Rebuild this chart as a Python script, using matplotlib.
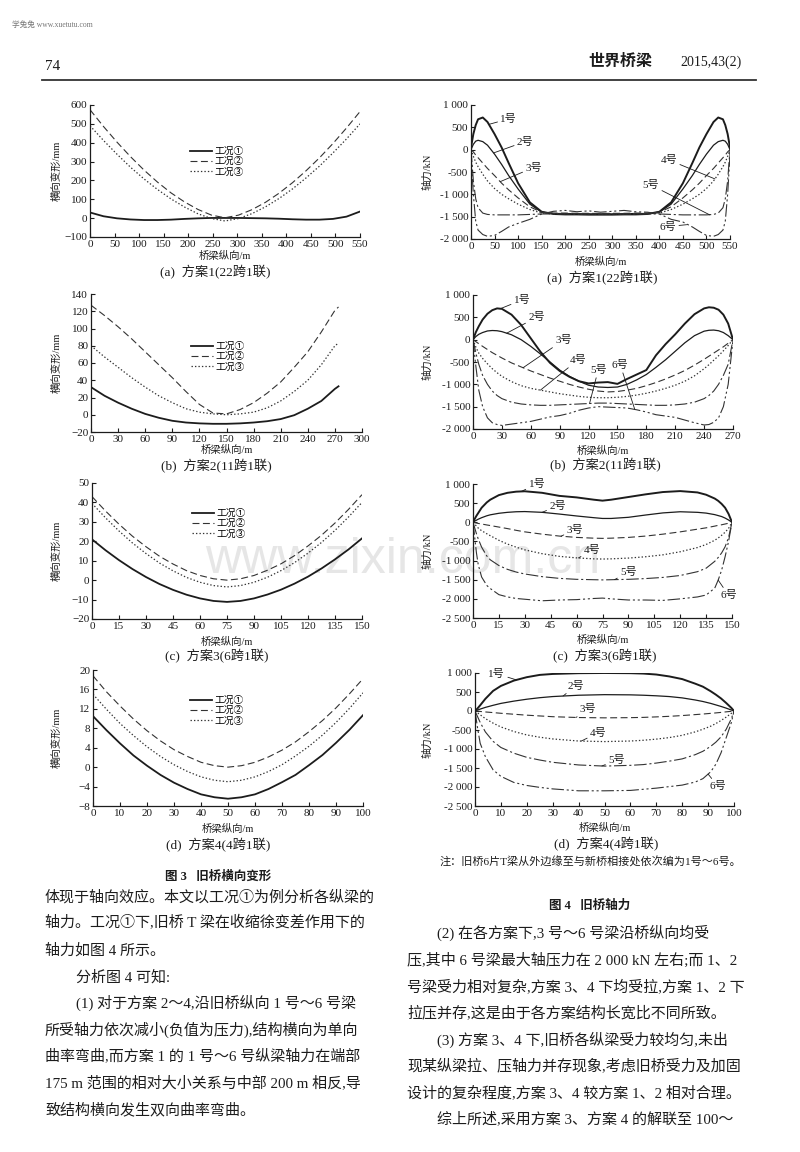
import matplotlib
matplotlib.use('Agg')
import matplotlib.pyplot as plt
from matplotlib.lines import Line2D

plt.rcParams['font.family'] = ['Liberation Serif', 'Noto Sans CJK SC']
plt.rcParams['lines.scale_dashes'] = False

# ---------------- 图3 旧桥横向变形 (mm) ----------------
# (a) 方案1
xa = [0, 27.5, 55, 82.5, 110, 137.5, 165, 192.5, 220, 247.5, 275,
      302.5, 330, 357.5, 385, 412.5, 440, 467.5, 495, 522.5, 550]
a_case1 = [30, 10, -1, -7, -10, -10, -8, -4, -1, 1, 1, 1, 0, -1, -3, -6, -8, -8, -4, 8, 35]
a_case2 = [575, 486, 403, 326, 255, 191, 134, 86, 46, 16, 2, 16, 45, 84, 132, 188, 251, 320, 396, 478, 565]
a_case3 = [490, 412, 339, 270, 208, 152, 102, 59, 23, -2, -15, -2, 24, 60, 104, 155, 213, 276, 346, 420, 500]

# (b) 方案2
xb = [0, 15, 30, 45, 60, 75, 90, 105, 120, 135, 150, 165, 180, 195, 210, 225, 240, 255, 270, 274]
b_case1 = [32, 22, 14, 7, 1, -3.5, -7, -9, -10, -10.5, -10.5, -10, -9, -7.5, -5, -0.5, 7, 16, 30, 33]
b_case2 = [127, 115, 102, 88, 73, 58, 43, 27, 12, 2, 1, 6, 14, 25, 38, 55, 73, 96, 121, 125]
b_case3 = [80, 67, 55, 43, 32, 22, 14, 7, 3, 1, 0, 1, 3, 8, 16, 27, 40, 58, 80, 83]

# (c) 方案3
xc = [0, 7.5, 15, 22.5, 30, 37.5, 45, 52.5, 60, 67.5, 75,
      82.5, 90, 97.5, 105, 112.5, 120, 127.5, 135, 142.5, 150]
c_case1 = [21, 15.4, 10.3, 5.7, 1.6, -2, -5, -7.5, -9.4, -10.7, -11.2, -10.7, -9.4, -7.4, -4.9, -1.8, 1.8, 6, 10.7, 15.8, 21.5]
c_case2 = [43, 35.6, 28.8, 22.6, 17.2, 12.3, 8.3, 4.9, 2.4, 0.7, 0, 0.7, 2.4, 5.1, 8.4, 12.6, 17.6, 23.1, 29.4, 36.4, 44]
c_case3 = [39.5, 32.1, 25.3, 19.1, 13.7, 8.8, 4.8, 1.4, -1.1, -2.8, -3.5, -2.8, -1.1, 1.5, 4.9, 9, 13.9, 19.4, 25.6, 32.5, 40]

# (d) 方案4
xd = [0, 5, 10, 15, 20, 25, 30, 35, 40, 45, 50, 55, 60, 65, 70, 75, 80, 85, 90, 95, 100]
d_case1 = [10.5, 7.6, 4.9, 2.4, 0.3, -1.6, -3.2, -4.5, -5.6, -6.2, -6.5, -6.2, -5.6, -4.5, -3.1, -1.6, 0.4, 2.5, 5, 7.7, 10.7]
d_case2 = [18.8, 15.5, 12.6, 9.9, 7.5, 5.4, 3.6, 2.2, 1.0, 0.3, 0, 0.3, 1.0, 2.1, 3.5, 5.2, 7.3, 9.6, 12.2, 15.1, 18.2]
d_case3 = [15, 11.9, 9, 6.5, 4.2, 2.2, 0.5, -0.9, -2, -2.7, -3, -2.7, -2, -0.9, 0.5, 2.3, 4.3, 6.6, 9.2, 12.1, 15.3]

# ---------------- 图4 旧桥轴力 (kN) ----------------
xa4 = [0, 5, 10, 15, 25, 35, 50, 65, 80, 100, 125, 150, 175, 200, 225, 250, 275,
       300, 325, 350, 375, 400, 425, 450, 470, 485, 500, 515, 525, 535, 540, 545, 550]
a_g1 = [50, 350, 550, 680, 720, 620, 350, 50, -300, -750, -1180, -1390, -1440, -1450, -1450, -1455, -1455,
        -1455, -1450, -1450, -1440, -1390, -1180, -750, -300, 50, 350, 620, 720, 680, 550, 350, 50]
a_g2 = [0, 120, 190, 210, 180, 100, -100, -330, -580, -880, -1220, -1400, -1430, -1430, -1435, -1440, -1440,
        -1440, -1435, -1430, -1430, -1400, -1220, -880, -580, -330, -100, 100, 180, 210, 190, 120, 0]
a_g3 = [0, -50, -120, -180, -300, -420, -580, -750, -900, -1080, -1280, -1400, -1420, -1420, -1425, -1425, -1430,
        -1425, -1425, -1420, -1420, -1400, -1280, -1080, -900, -750, -580, -420, -300, -180, -120, -50, 0]
a_g4 = [0, -150, -280, -380, -550, -700, -870, -1000, -1100, -1220, -1340, -1420, -1430, -1435, -1435, -1440, -1440,
        -1440, -1435, -1435, -1430, -1420, -1340, -1220, -1100, -1000, -870, -700, -550, -380, -280, -150, 0]
a_g5 = [0, -700, -1100, -1300, -1420, -1450, -1460, -1460, -1460, -1460, -1450, -1440, -1440, -1440, -1440, -1440, -1440,
        -1440, -1440, -1440, -1440, -1440, -1450, -1460, -1460, -1460, -1460, -1450, -1420, -1300, -1100, -700, 0]
a_g6 = [-100, -1000, -1600, -1800, -1900, -1940, -1920, -1830, -1730, -1650, -1560, -1440, -1380, -1360, -1390, -1370, -1400,
        -1380, -1360, -1390, -1400, -1440, -1560, -1620, -1730, -1830, -1920, -1940, -1900, -1800, -1600, -1000, -100]

xb4 = [0, 3, 6, 10, 15, 20, 25, 30, 40, 50, 60, 70, 80, 90, 100, 110, 120, 130, 140, 150,
       160, 170, 180, 190, 200, 210, 220, 230, 240, 245, 250, 255, 260, 265, 270]
b_g1 = [0, 170, 300, 450, 580, 660, 700, 690, 560, 330, 30, -270, -520, -700, -830, -930, -980, -960, -950, -990,
        -880, -780, -680, -350, -100, 120, 360, 570, 700, 725, 715, 670, 560, 360, 0]
b_g2 = [0, 70, 120, 160, 195, 205, 200, 180, 110, 0, -150, -320, -500, -680, -820, -930, -1020, -1060, -1070, -1060,
        -1000, -900, -780, -620, -450, -260, -70, 90, 190, 210, 215, 200, 160, 90, 0]
b_g3 = [0, -45, -90, -150, -220, -290, -350, -410, -520, -610, -700, -780, -860, -930, -1000, -1060, -1110, -1150, -1170, -1160,
        -1130, -1090, -1030, -960, -880, -790, -690, -570, -440, -370, -300, -230, -160, -80, 0]
b_g4 = [0, -170, -300, -420, -540, -650, -740, -820, -940, -1030, -1090, -1130, -1170, -1210, -1240, -1270, -1290, -1300, -1300, -1290,
        -1270, -1240, -1200, -1150, -1090, -1020, -930, -810, -650, -560, -460, -360, -250, -130, 0]
b_g5 = [0, -300, -550, -800, -1000, -1150, -1250, -1320, -1400, -1440, -1460, -1470, -1470, -1460, -1450, -1440, -1430, -1420, -1420, -1430,
        -1440, -1450, -1460, -1470, -1470, -1460, -1440, -1400, -1320, -1250, -1150, -1000, -800, -550, 0]
b_g6 = [0, -600, -1130, -1500, -1750, -1860, -1900, -1920, -1890, -1860, -1830, -1780, -1730, -1700, -1650, -1580, -1530, -1500, -1510, -1520,
        -1530, -1570, -1620, -1680, -1710, -1740, -1800, -1860, -1910, -1900, -1850, -1750, -1500, -1000, 0]

xc4 = [0, 1, 2, 3, 5, 8, 10, 15, 20, 25, 30, 40, 50, 60, 70, 75, 80, 90, 100, 110,
       120, 130, 135, 140, 142, 144, 146, 148, 150]
c_g1 = [0, 90, 170, 240, 380, 520, 590, 710, 770, 800, 810, 770, 690, 650, 590, 565, 590, 660, 730, 790,
        815, 780, 720, 620, 560, 480, 380, 220, 0]
c_g2 = [0, 30, 55, 80, 120, 170, 195, 235, 260, 275, 280, 260, 215, 165, 120, 100, 100, 130, 190, 245,
        275, 260, 240, 200, 175, 150, 110, 60, 0]
c_g3 = [0, -10, -20, -30, -45, -70, -85, -125, -165, -210, -250, -310, -360, -395, -415, -420, -415, -395, -360, -310,
        -250, -180, -145, -100, -80, -65, -45, -25, 0]
c_g4 = [0, -50, -100, -150, -220, -300, -350, -470, -570, -650, -720, -820, -890, -930, -955, -960, -955, -935, -900, -850,
        -770, -660, -580, -470, -410, -340, -260, -160, 0]
c_g5 = [0, -150, -300, -430, -650, -880, -980, -1130, -1230, -1300, -1350, -1420, -1465, -1490, -1500, -1505, -1500, -1490, -1470, -1440,
        -1390, -1290, -1200, -1020, -920, -800, -640, -400, 0]
c_g6 = [0, -400, -800, -1100, -1430, -1650, -1730, -1890, -1950, -1990, -2010, -2050, -2030, -2020, -1990, -1980, -2000, -2030, -2030, -2040,
        -2000, -1950, -1900, -1720, -1510, -1250, -900, -500, 0]

xd4 = [0, 1, 2, 4, 7, 10, 15, 20, 25, 30, 40, 50, 60, 65, 70, 75, 80, 85, 88, 91, 93, 95, 97, 99, 100]
d_g1 = [0, 70, 150, 320, 530, 660, 800, 890, 950, 975, 995, 1000, 995, 985, 960, 910, 840, 720, 640, 520, 430, 330, 210, 80, 0]
d_g2 = [0, 25, 50, 95, 150, 200, 260, 310, 350, 380, 415, 430, 425, 415, 400, 380, 345, 290, 250, 200, 160, 120, 75, 25, 0]
d_g3 = [0, -5, -12, -25, -42, -60, -85, -110, -130, -150, -172, -180, -175, -168, -155, -140, -120, -95, -80, -62, -50, -37, -22, -8, 0]
d_g4 = [0, -50, -100, -200, -320, -420, -540, -630, -690, -735, -790, -805, -790, -770, -740, -700, -640, -550, -480, -400, -330, -250, -160, -60, 0]
d_g5 = [0, -150, -300, -550, -800, -960, -1110, -1220, -1290, -1350, -1420, -1450, -1430, -1410, -1370, -1320, -1260, -1150, -1060, -930, -820, -680, -480, -200, 0]
d_g6 = [0, -450, -850, -1200, -1550, -1720, -1880, -1960, -2010, -2050, -2100, -2100, -2090, -2060, -2030, -1990, -1950, -1870, -1780, -1600, -1400, -1100, -700, -300, 0]

case_names = ['工况①', '工况②', '工况③']
girder_names = ['1号', '2号', '3号', '4号', '5号', '6号']

left_xticks = [list(range(0, 551, 50)), list(range(0, 301, 30)), list(range(0, 151, 15)), list(range(0, 101, 10))]
left_yticks = [list(range(-100, 601, 100)), list(range(-20, 141, 20)), list(range(-20, 51, 10)), list(range(-8, 21, 4))]
right_xticks = [list(range(0, 551, 50)), list(range(0, 271, 30)), list(range(0, 151, 15)), list(range(0, 101, 10))]
right_yticks = [list(range(-2000, 1001, 500)), list(range(-2000, 1001, 500)),
                list(range(-2500, 1001, 500)), list(range(-2500, 1001, 500))]
captions = ['(a)  方案1(22跨1联)', '(b)  方案2(11跨1联)', '(c)  方案3(6跨1联)', '(d)  方案4(4跨1联)']

# ---------------- 画布 ----------------
W, H = 800, 1152
fig = plt.figure(figsize=(W / 100, H / 100), dpi=100)
INK = '#1c1c1c'


def box(x0, y0, x1, y1):
    return [x0 / W, 1 - y1 / H, (x1 - x0) / W, (y1 - y0) / H]


def ftext(x, y, s, **kw):
    kw.setdefault('color', INK)
    return fig.text(x / W, 1 - y / H, s, **kw)


def style(ax, xt, yt, ylabels):
    ax.set_facecolor('none')
    ax.set_xlim(xt[0], xt[-1])
    ax.set_ylim(yt[0], yt[-1])
    ax.set_xticks(xt)
    ax.set_xticklabels([str(v) for v in xt])
    ax.set_yticks(yt)
    ax.set_yticklabels(ylabels)
    for s in ['top', 'right']:
        ax.spines[s].set_visible(False)
    for s in ['left', 'bottom']:
        ax.spines[s].set_linewidth(0.9)
        ax.spines[s].set_color(INK)
    ax.tick_params(direction='in', length=3, width=0.8, labelsize=8, pad=2, colors=INK)


# 水印（最底层）
ftext(205, 573, 'www.zixin.com.cn', fontsize=36, color='#e6e6e6',
      family=['Liberation Sans'], va='baseline', ha='left', zorder=-10)

# 页眉
ftext(12, 25, '学兔兔 www.xuetutu.com', fontsize=5.5, color='#777777', va='center')
ftext(45, 67, '74', fontsize=11, va='center')
ftext(588, 62, '世界桥梁', fontsize=11.5, fontweight='bold', va='center')
ftext(680, 62, '2015,43(2)', fontsize=10, va='center')
fig.add_artist(Line2D([42 / W, 756 / W], [1 - 80 / H, 1 - 80 / H], color='#333333', lw=1.3))

# ---------------- 图3 ----------------
left_boxes = [(90, 105, 360, 237), (91, 294, 362, 432), (92, 483, 362, 619), (93, 670, 363, 806)]
left_xlab_y = [256, 450, 642, 829]
left_cap_y = [272, 466, 656, 845]
left_leg = [(190, 147), (191, 342), (192, 509), (190, 696)]
left_data = [(xa, a_case1, a_case2, a_case3), (xb, b_case1, b_case2, b_case3),
             (xc, c_case1, c_case2, c_case3), (xd, d_case1, d_case2, d_case3)]

case_styles = [dict(color=INK, lw=1.3, ls='-'),
               dict(color='#333333', lw=0.8, ls=(0, (5, 2.5))),
               dict(color='#333333', lw=0.9, ls=(0, (1, 1.5)))]

for i in range(4):
    x0, y0, x1, y1 = left_boxes[i]
    ax = fig.add_axes(box(x0, y0, x1, y1))
    xs, c1, c2, c3 = left_data[i]
    handles = []
    for ys, st, name in zip([c1, c2, c3], case_styles, case_names):
        h, = ax.plot(xs, ys, label=name, **st)
        handles.append(h)
    style(ax, left_xticks[i], left_yticks[i], [str(v).replace('-', '−') for v in left_yticks[i]])
    lx, ly = left_leg[i]
    ax.legend(handles=handles, loc='upper left', bbox_to_anchor=(lx / W, 1 - ly / H),
              bbox_transform=fig.transFigure, frameon=False, fontsize=7,
              handlelength=2.3, handletextpad=0.2, labelspacing=0.1, borderpad=0, borderaxespad=0)
    ftext(57, (y0 + y1) / 2, '横向变形/mm', fontsize=7.5, rotation=90, ha='center', va='center')
    ftext((x0 + x1) / 2, left_xlab_y[i], '桥梁纵向/m', fontsize=7.5, ha='center', va='center')
    ftext((x0 + x1) / 2 - 10, left_cap_y[i], captions[i], fontsize=9.5, ha='center', va='center')

# ---------------- 图4 ----------------
right_boxes = [(471, 105, 730, 239), (473, 295, 733, 429), (473, 484, 732, 618), (475, 673, 734, 806)]
right_xlab_y = [262, 451, 640, 828]
right_cap_y = [278, 465, 656, 844]
right_data = [(xa4, [a_g1, a_g2, a_g3, a_g4, a_g5, a_g6]),
              (xb4, [b_g1, b_g2, b_g3, b_g4, b_g5, b_g6]),
              (xc4, [c_g1, c_g2, c_g3, c_g4, c_g5, c_g6]),
              (xd4, [d_g1, d_g2, d_g3, d_g4, d_g5, d_g6])]
girder_styles = [dict(color=INK, lw=1.4, ls='-'),
                 dict(color=INK, lw=0.9, ls='-'),
                 dict(color='#333333', lw=0.8, ls=(0, (5, 2.5))),
                 dict(color='#333333', lw=0.9, ls=(0, (1, 1.5))),
                 dict(color='#333333', lw=0.8, ls=(0, (9, 2, 1.5, 2))),
                 dict(color='#333333', lw=0.8, ls=(0, (9, 2, 1.5, 2, 1.5, 2)))]
# 标注位置: (文字x, 文字y, 指向x, 指向y)
right_notes = [
    [(80, 690, 38, 566), (115, 180, 48, -73), (133, -400, 62, -716),
     (420, -230, 518, -655), (382, -790, 507, -1460), (418, -1720, 458, -1680)],
    [(51, 890, 28, 690), (66, 500, 35, 145), (94, -10, 52, -628),
     (109, -455, 70, -1130), (130, -680, 121, -1430), (153, -570, 168, -1562)],
    [(37, 1000, 28, 806), (49, 424, 40, 260), (59, -190, 51, -364),
     (69, -730, 61, -933), (90, -1300, 82, -1498), (148, -1905, 142, -1510)],
    [(8.4, 980, 16, 818), (39, 664, 34, 394), (43.7, 47, 39, -170),
     (47.6, -570, 41, -792), (54.6, -1294, 49, -1447), (93.8, -1980, 90, -1660)],
]

for i in range(4):
    x0, y0, x1, y1 = right_boxes[i]
    ax = fig.add_axes(box(x0, y0, x1, y1))
    xs, series = right_data[i]
    for ys, st in zip(series, girder_styles):
        ax.plot(xs, ys, **st)
    style(ax, right_xticks[i], right_yticks[i], [f'{v:,}'.replace(',', ' ') for v in right_yticks[i]])
    for name, (tx, ty, px, py) in zip(girder_names, right_notes[i]):
        ax.annotate(name, xy=(px, py), xytext=(tx, ty), fontsize=8, color=INK,
                    ha='center', va='center', annotation_clip=False,
                    arrowprops=dict(arrowstyle='-', lw=0.6, color=INK, shrinkA=0, shrinkB=0))
    ftext(427, (y0 + y1) / 2, '轴力/kN', fontsize=7.5, rotation=90, ha='center', va='center')
    ftext((x0 + x1) / 2, right_xlab_y[i], '桥梁纵向/m', fontsize=7.5, ha='center', va='center')
    ftext((x0 + x1) / 2 + 2, right_cap_y[i], captions[i], fontsize=9.5, ha='center', va='center')

ftext(590, 862, '注：旧桥6片T梁从外边缘至与新桥相接处依次编为1号～6号。', fontsize=8, ha='center', va='center')

# 图题
ftext(218, 877, '图 3   旧桥横向变形', fontsize=9, fontweight='bold', ha='center', va='center')
ftext(590, 906, '图 4   旧桥轴力', fontsize=9, fontweight='bold', ha='center', va='center')

# 正文
body_left = [
    (45, 897, '体现于轴向效应。本文以工况①为例分析各纵梁的'),
    (45, 923, '轴力。工况①下,旧桥 T 梁在收缩徐变差作用下的'),
    (45, 950, '轴力如图 4 所示。'),
    (76, 977, '分析图 4 可知:'),
    (76, 1003, '(1) 对于方案 2～4,沿旧桥纵向 1 号～6 号梁'),
    (45, 1030, '所受轴力依次减小(负值为压力),结构横向为单向'),
    (45, 1056, '曲率弯曲,而方案 1 的 1 号～6 号纵梁轴力在端部'),
    (45, 1083, '175 m 范围的相对大小关系与中部 200 m 相反,导'),
    (45, 1110, '致结构横向发生双向曲率弯曲。'),
]
body_right = [
    (437, 933, '(2) 在各方案下,3 号～6 号梁沿桥纵向均受'),
    (407, 960, '压,其中 6 号梁最大轴压力在 2 000 kN 左右;而 1、2'),
    (407, 987, '号梁受力相对复杂,方案 3、4 下均受拉,方案 1、2 下'),
    (407, 1013, '拉压并存,这是由于各方案结构长宽比不同所致。'),
    (437, 1040, '(3) 方案 3、4 下,旧桥各纵梁受力较均匀,未出'),
    (407, 1066, '现某纵梁拉、压轴力并存现象,考虑旧桥受力及加固'),
    (407, 1093, '设计的复杂程度,方案 3、4 较方案 1、2 相对合理。'),
    (437, 1119, '综上所述,采用方案 3、方案 4 的解联至 100～'),
]
for x, y, s in body_left + body_right:
    ftext(x, y, s, fontsize=10.8, ha='left', va='center')

fig.savefig('out.png', dpi=100)
